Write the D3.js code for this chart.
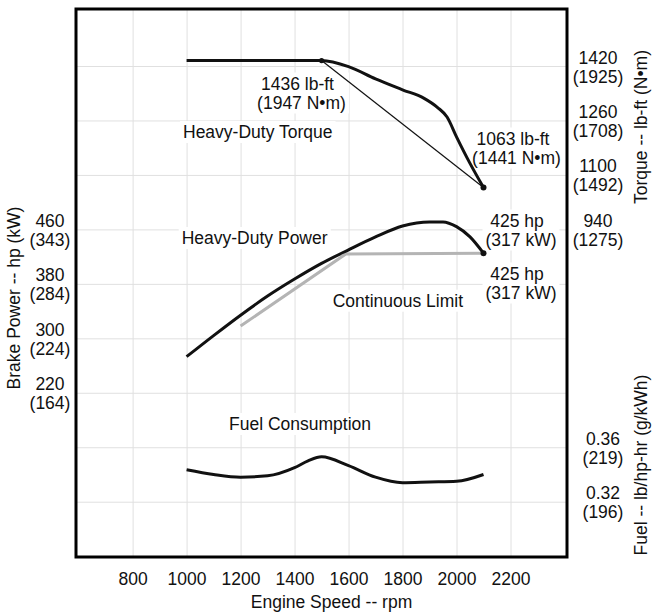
<!DOCTYPE html>
<html>
<head>
<meta charset="utf-8">
<script src="https://cdn.jsdelivr.net/npm/d3@7"></script>
<style>
  body { margin: 0; background: #fff; }
  svg text { font-family: "Liberation Sans", Arial, sans-serif; font-size: 17.5px; fill: #111; }
</style>
</head>
<body>
<svg id="chart" width="652" height="613"></svg>
<script>
// engine speed grid (rpm)
var rpmTicks = [800, 1000, 1200, 1400, 1600, 1800, 2000, 2200];

// left axis: brake power hp (kW)
var powerTicks = [460, 380, 300, 220];
var powerKw = [343, 284, 224, 164];
var gridHp = [60, 140, 220, 300, 380, 460, 540, 620, 700];

// right axis: torque lb-ft (N*m)
var torqueTicks = [1420, 1260, 1100, 940];
var torqueNm = [1925, 1708, 1492, 1275];

// right axis: fuel lb/hp-hr (g/kWh)
var fuelTicks = [0.36, 0.32];
var fuelGkwh = [219, 196];

// heavy-duty torque curve
var torqueRpm = [1000, 1500, 1600, 1700, 1800, 1880, 1930, 1965, 2000, 2050, 2100];
var torqueVal = [1436, 1436, 1418, 1382, 1350, 1325, 1298, 1270, 1212, 1134, 1063];

// heavy-duty power curve
var powerRpm = [1000, 1100, 1200, 1300, 1400, 1500, 1600, 1700, 1800, 1900, 1950, 2000, 2050, 2100];
var powerVal = [273, 304, 334, 362, 387, 410, 430, 449, 465, 471, 471, 464, 449, 425];

// continuous limit
var contRpm = [1200, 1590, 2100];
var contVal = [318, 424, 425];

// fuel consumption
var fuelRpm = [1000, 1100, 1200, 1300, 1400, 1450, 1500, 1600, 1700, 1800, 1900, 2000, 2100];
var fuelVal = [0.3435, 0.340, 0.338, 0.339, 0.345, 0.350, 0.353, 0.3465, 0.338, 0.334, 0.3345, 0.335, 0.340];

var svg = d3.select("#chart");
var plotL = 76, plotR = 567, plotT = 9, plotB = 557;

var x = d3.scaleLinear().domain([800, 2200]).range([132.6, 510.5]);
var yP = d3.scaleLinear().domain([60, 700]).range([501.7, 66]);
var yT = d3.scaleLinear().domain([940, 1420]).range([yP(460), yP(700)]);
var yF = d3.scaleLinear().domain([0.32, 0.36]).range([yP(60), yP(140)]);

// grid
var gx = svg.append("g").attr("transform", "translate(0," + plotB + ")")
  .call(d3.axisBottom(x).tickValues(rpmTicks).tickSize(-(plotB - plotT)).tickFormat(d3.format("d")));
gx.select(".domain").remove();
gx.attr("font-size", null).attr("font-family", null);
gx.selectAll("line").attr("stroke", "#e0e0e0");
gx.selectAll("text").attr("dy", null).attr("y", 28).attr("fill", null);

var gy = svg.append("g").attr("transform", "translate(" + plotL + ",0)")
  .call(d3.axisLeft(yP).tickValues(gridHp).tickSize(-(plotR - plotL)).tickFormat(""));
gy.select(".domain").remove();
gy.selectAll("line").attr("stroke", "#e0e0e0");

var bgLayer = svg.append("g");
var curveLayer = svg.append("g");
var textLayer = svg.append("g");

// axis tick labels (two lines each)
function twoLine(g, cx, y, a, b) {
  g.append("text").attr("x", cx).attr("y", y - 2.5).attr("text-anchor", "middle").text(a);
  g.append("text").attr("x", cx).attr("y", y + 16.5).attr("text-anchor", "middle").text(b);
}
powerTicks.forEach(function(d, i) { twoLine(svg, 50, yP(d), d, "(" + powerKw[i] + ")"); });
torqueTicks.forEach(function(d, i) { twoLine(svg, 598, yT(d), d, "(" + torqueNm[i] + ")"); });
fuelTicks.forEach(function(d, i) { twoLine(svg, 603, yF(d), d.toFixed(2), "(" + fuelGkwh[i] + ")"); });

// axis titles
svg.append("text").attr("transform", "translate(20,298) rotate(-90)").attr("text-anchor", "middle").text("Brake Power -- hp (kW)");
svg.append("text").attr("transform", "translate(647,127) rotate(-90)").attr("text-anchor", "middle").text("Torque -- lb-ft (N\u2022m)");
svg.append("text").attr("transform", "translate(647,465) rotate(-90)").attr("text-anchor", "middle").text("Fuel -- lb/hp-hr (g/kWh)");
svg.append("text").attr("x", 331.5).attr("y", 608).attr("text-anchor", "middle").text("Engine Speed -- rpm");

// curves
var lineT = d3.line().x(function(d, i) { return x(torqueRpm[i]); }).y(function(d) { return yT(d); }).curve(d3.curveMonotoneX);
var lineP = d3.line().x(function(d, i) { return x(powerRpm[i]); }).y(function(d) { return yP(d); }).curve(d3.curveMonotoneX);
var lineC = d3.line().x(function(d, i) { return x(contRpm[i]); }).y(function(d) { return yP(d); });
var lineF = d3.line().x(function(d, i) { return x(fuelRpm[i]); }).y(function(d) { return yF(d); }).curve(d3.curveMonotoneX);

curveLayer.append("path").datum(contVal).attr("d", lineC)
  .attr("fill", "none").attr("stroke", "#b4b4b4").attr("stroke-width", 3);
curveLayer.append("path").datum(powerVal).attr("d", lineP)
  .attr("fill", "none").attr("stroke", "#111").attr("stroke-width", 3);
curveLayer.append("path").datum(torqueVal).attr("d", lineT)
  .attr("fill", "none").attr("stroke", "#111").attr("stroke-width", 3);
curveLayer.append("path").datum(fuelVal).attr("d", lineF)
  .attr("fill", "none").attr("stroke", "#111").attr("stroke-width", 3);

// thin straight torque line between peak and rated points
var tLast = torqueRpm.length - 1;
curveLayer.append("line")
  .attr("x1", x(torqueRpm[1])).attr("y1", yT(torqueVal[1]))
  .attr("x2", x(torqueRpm[tLast])).attr("y2", yT(torqueVal[tLast]))
  .attr("stroke", "#111").attr("stroke-width", 1.2);

// dots
var pLast = powerRpm.length - 1;
[[x(torqueRpm[1]), yT(torqueVal[1]), 2.6],
 [x(torqueRpm[tLast]), yT(torqueVal[tLast]), 3],
 [x(powerRpm[pLast]), yP(powerVal[pLast]), 3]].forEach(function(p) {
  curveLayer.append("circle").attr("cx", p[0]).attr("cy", p[1]).attr("r", p[2]).attr("fill", "#111");
});

// annotations
function label(lines) {
  var g = textLayer.append("g");
  lines.forEach(function(l) {
    g.append("text").attr("x", l[0]).attr("y", l[1]).attr("text-anchor", l[3] || "middle").text(l[2]);
  });
  var b = g.node().getBBox();
  bgLayer.append("rect").attr("x", b.x - 3).attr("y", b.y - 1).attr("width", b.width + 6).attr("height", b.height + 2).attr("fill", "#fff");
}
label([[297.5, 89.5, "1436 lb-ft"], [301.5, 108.5, "(1947 N\u2022m)"]]);
label([[183, 138, "Heavy-Duty Torque", "start"]]);
label([[513, 144.5, "1063 lb-ft"], [516.5, 163.5, "(1441 N\u2022m)"]]);
label([[181.7, 244, "Heavy-Duty Power", "start"]]);
label([[517, 226.5, "425 hp"], [521, 245.5, "(317 kW)"]]);
label([[517, 279.5, "425 hp"], [521, 298.5, "(317 kW)"]]);
label([[332.7, 306.7, "Continuous Limit", "start"]]);
label([[229, 430, "Fuel Consumption", "start"]]);

// frame
svg.append("rect").attr("x", plotL).attr("y", plotT).attr("width", plotR - plotL).attr("height", plotB - plotT)
  .attr("fill", "none").attr("stroke", "#000").attr("stroke-width", 3);
</script>
</body>
</html>
